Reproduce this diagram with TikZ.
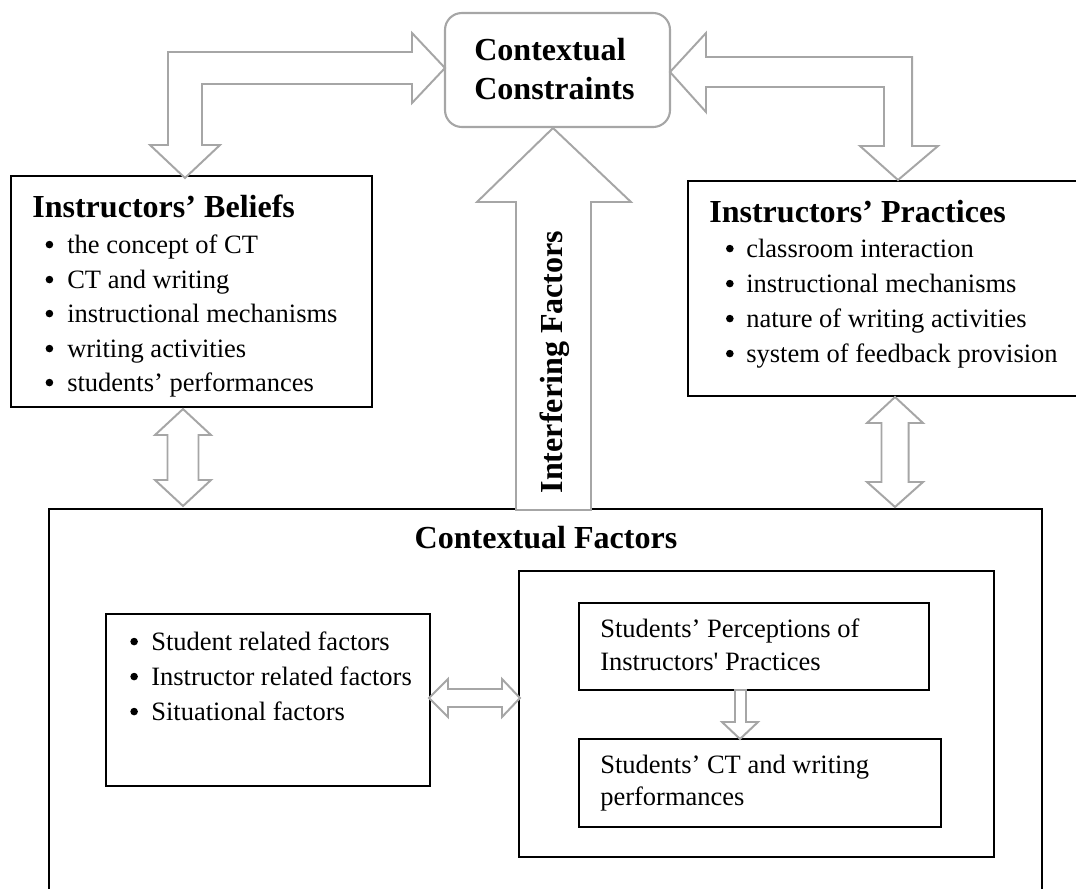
\documentclass[tikz,border=0pt]{standalone}
\usepackage{fontspec}
\setmainfont{Liberation Serif}
\usetikzlibrary{fit}
\definecolor{arrowgray}{HTML}{A6A6A6}
\newcommand{\ttlfont}{\fontsize{22.8pt}{27pt}\selectfont\bfseries}
\newcommand{\itmfont}{\fontsize{18.85pt}{24pt}\selectfont}
\begin{document}
\begin{tikzpicture}[x=0.025cm,y=-0.025cm,
  boxed/.style={draw=black, line width=0.9pt, inner sep=0pt},
  roundbox/.style={draw=arrowgray, line width=1.5pt, rounded corners=12pt, inner sep=0pt},
  garrow/.style={draw=arrowgray, line width=1.4pt, fill=white, line join=miter},
  ttl/.style={font=\ttlfont, inner sep=0pt, anchor=base west},
  itm/.style={font=\itmfont, inner sep=0pt, anchor=base west},
  dot/.style={circle, fill=black, inner sep=0pt, minimum size=5.4pt}]
\useasboundingbox (0,0) rectangle (1076,888);

% boxes
\node[roundbox, fit={(445,13) (670,127)}] (cc) {};
\node[boxed, fit={(11,176) (372,407)}] (beliefs) {};
\node[boxed, fit={(688,181) (1082,396)}] (practices) {};
\node[boxed, fit={(49,509) (1042,900)}] (factors) {};
\node[boxed, fit={(106,614) (430,786)}] (listbox) {};
\node[boxed, fit={(519,571) (994,857)}] (container) {};
\node[boxed, fit={(579,603) (929,690)}] (percep) {};
\node[boxed, fit={(579,739) (941,827)}] (ctbox) {};

% texts
\node[ttl] (cc1) at (474,60) {Contextual};
\node[ttl] (cc2) at (474,99) {Constraints};

\node[ttl] (bt) at (32,217) {Instructors’ Beliefs};
\node[itm] (b1) at (67,253) {the concept of CT};
\node[itm] (b2) at (67,288) {CT and writing};
\node[itm] (b3) at (67,322) {instructional mechanisms};
\node[itm] (b4) at (67,357) {writing activities};
\node[itm] (b5) at (67,391) {students’ performances};

\node[ttl] (pt) at (709,222) {Instructors’ Practices};
\node[itm] (p1) at (746,257) {classroom interaction};
\node[itm] (p2) at (746,292) {instructional mechanisms};
\node[itm] (p3) at (746,327) {nature of writing activities};
\node[itm] (p4) at (746,362) {system of feedback provision};

\node[ttl, anchor=base] (ft) at (546,548) {Contextual Factors};
\node[itm] (l1) at (151,650) {Student related factors};
\node[itm] (l2) at (151,685) {Instructor related factors};
\node[itm] (l3) at (151,720) {Situational factors};

\node[itm] (s1) at (600,637) {Students’ Perceptions of};
\node[itm] (s2) at (600,670) {Instructors\textquotesingle{} Practices};
\node[itm] (s3) at (600,773) {Students’ CT and writing};
\node[itm] (s4) at (600,805) {performances};

% bullets
\foreach \n in {b1,b2,b3,b4,b5} \node[dot] (d\n) at ([xshift=-12.5pt,yshift=6pt]\n.base west) {};
\foreach \n in {p1,p2,p3,p4} \node[dot] (d\n) at ([xshift=-11.5pt,yshift=6pt]\n.base west) {};
\foreach \n in {l1,l2,l3} \node[dot] (d\n) at ([xshift=-12pt,yshift=6pt]\n.base west) {};

% block arrows
\draw[garrow] (445,68) -- (412,33) -- (412,52) -- (168,52) -- (168,145) -- (150,145)
  -- (185,178) -- (220,145) -- (202,145) -- (202,84) -- (412,84) -- (412,103) -- cycle;
\draw[garrow] (670,72) -- (706,33) -- (706,57) -- (912,57) -- (912,146) -- (938,146)
  -- (898,180) -- (860,146) -- (884,146) -- (884,87) -- (706,87) -- (706,112) -- cycle;
\draw[garrow] (553,128) -- (631,202) -- (591,202) -- (591,510) -- (516,510) -- (516,202)
  -- (477,202) -- cycle;
\draw[garrow] (183,409) -- (211,435) -- (198.5,435) -- (198.5,480) -- (211,480) -- (183,506)
  -- (155,480) -- (167.5,480) -- (167.5,435) -- (155,435) -- cycle;
\draw[garrow] (895,397) -- (923,423) -- (908.5,423) -- (908.5,482) -- (923,482) -- (895,507)
  -- (867,482) -- (881.5,482) -- (881.5,423) -- (867,423) -- cycle;
\draw[garrow] (429,698) -- (448,679) -- (448,689) -- (502,689) -- (502,679) -- (520,698)
  -- (502,717) -- (502,707) -- (448,707) -- (448,717) -- cycle;
\draw[garrow] (735,690) -- (746,690) -- (746,722) -- (758,722) -- (740,739) -- (722,722)
  -- (735,722) -- cycle;

\node[font=\ttlfont, inner sep=0pt, rotate=90] (intf) at (555,362) {Interfering Factors};
\end{tikzpicture}
\end{document}
